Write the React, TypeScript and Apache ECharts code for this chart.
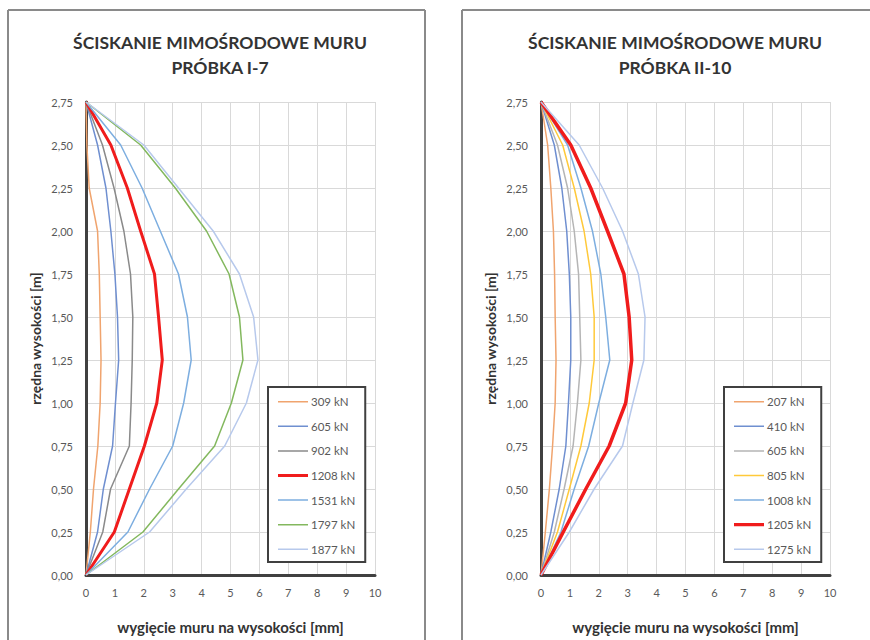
import React, { useEffect, useRef } from "react";
import * as echarts from "echarts";

// heights along the wall [m]
const heights = [0, 0.25, 0.5, 0.75, 1.0, 1.25, 1.5, 1.75, 2.0, 2.25, 2.5, 2.75];

// Sample I-7 : deflection [mm] at each height
const loadsI7 = ["309 kN", "605 kN", "902 kN", "1208 kN", "1531 kN", "1797 kN", "1877 kN"];
const i7_309 = [0, 0.15, 0.26, 0.41, 0.49, 0.52, 0.49, 0.46, 0.4, 0.11, 0.03, 0];
const i7_605 = [0, 0.4, 0.6, 0.92, 1.02, 1.13, 1.09, 1.0, 0.86, 0.69, 0.4, 0];
const i7_902 = [0, 0.58, 0.85, 1.5, 1.56, 1.6, 1.62, 1.54, 1.31, 0.97, 0.57, 0];
const i7_1208 = [0, 0.98, 1.5, 2.02, 2.45, 2.64, 2.51, 2.37, 1.89, 1.43, 0.86, 0];
const i7_1531 = [0, 1.45, 2.2, 3.0, 3.38, 3.64, 3.51, 3.2, 2.57, 1.94, 1.2, 0];
const i7_1797 = [0, 1.97, 3.2, 4.45, 5.03, 5.43, 5.31, 4.95, 4.17, 3.09, 1.89, 0];
const i7_1877 = [0, 2.2, 3.47, 4.8, 5.55, 5.95, 5.8, 5.31, 4.4, 3.2, 2.0, 0];
const valuesI7 = [i7_309, i7_605, i7_902, i7_1208, i7_1531, i7_1797, i7_1877];
const colorsI7 = ["#F0A46E", "#6F8FD0", "#8A8A8A", "#F01C1C", "#7DAEE0", "#83B85E", "#B7C9EC"];
const widthsI7 = [1.5, 1.5, 1.5, 3, 1.5, 1.5, 1.5];

// Sample II-10
const loadsII10 = ["207 kN", "410 kN", "605 kN", "805 kN", "1008 kN", "1205 kN", "1275 kN"];
const ii_207 = [0, 0.15, 0.29, 0.4, 0.49, 0.52, 0.49, 0.47, 0.43, 0.34, 0.23, 0];
const ii_410 = [0, 0.34, 0.63, 0.86, 0.95, 1.03, 1.03, 0.98, 0.89, 0.72, 0.46, 0];
const ii_605 = [0, 0.46, 0.8, 1.11, 1.26, 1.38, 1.34, 1.3, 1.15, 0.92, 0.57, 0];
const ii_805 = [0, 0.57, 0.98, 1.38, 1.67, 1.84, 1.84, 1.72, 1.49, 1.15, 0.75, 0];
const ii_1008 = [0, 0.69, 1.15, 1.65, 2.0, 2.38, 2.24, 2.07, 1.78, 1.38, 0.92, 0];
const ii_1205 = [0, 0.77, 1.55, 2.36, 2.93, 3.14, 3.05, 2.87, 2.3, 1.72, 1.03, 0];
const ii_1275 = [0, 0.98, 1.84, 2.82, 3.18, 3.56, 3.6, 3.37, 2.82, 2.13, 1.32, 0];
const valuesII10 = [ii_207, ii_410, ii_605, ii_805, ii_1008, ii_1205, ii_1275];
const colorsII10 = ["#F0A46E", "#6F8FD0", "#B5B5B5", "#FFC93A", "#7DAEE0", "#F01C1C", "#B7C9EC"];
const widthsII10 = [1.5, 1.5, 1.5, 1.5, 1.5, 3.5, 1.5];

const titleLine1 = "ŚCISKANIE MIMOŚRODOWE MURU";
const titlesLine2 = ["PRÓBKA I-7", "PRÓBKA II-10"];
const xName = "wygięcie muru na wysokości [mm]";
const yName = "rzędna wysokości [m]";

const FONT = "Lato, 'Open Sans', sans-serif";
const THIN_ICON = "path://M0,0h30v0.02h-30zM0,4.25h30v1.5h-30zM0,9.98h30v0.02h-30z";
const THICK_ICON = "path://M0,0h30v0.02h-30zM0,3.4h30v3.2h-30zM0,9.98h30v0.02h-30z";

export default function App() {
  const ref = useRef<HTMLDivElement>(null);
  useEffect(() => {
    if (!ref.current) return;
    const chart = echarts.init(ref.current, undefined, { renderer: "svg" });
    const gridLefts = [86, 541];
    const titleCenters = [220, 675];
    const panels = [
      { loads: loadsI7, values: valuesI7, colors: colorsI7, widths: widthsI7 },
      { loads: loadsII10, values: valuesII10, colors: colorsII10, widths: widthsII10 },
    ];

    const series: any[] = [];
    panels.forEach((p, gi) => {
      p.loads.forEach((name, si) => {
        series.push({
          type: "line",
          name,
          xAxisIndex: gi,
          yAxisIndex: gi,
          data: heights.map((h, k) => [p.values[si][k], h]),
          symbol: "none",
          smooth: false,
          lineStyle: { color: p.colors[si], width: p.widths[si] },
          itemStyle: { color: p.colors[si] },
          z: 2 + si * 0.01,
        });
      });
    });

    const graphic: any[] = [];
    titleCenters.forEach((cx, i) => {
      graphic.push({
        type: "text",
        x: cx,
        y: 42,
        style: { text: titleLine1, font: `bold 17.5px ${FONT}`, fill: "#333", textAlign: "center", textVerticalAlign: "middle" },
      });
      graphic.push({
        type: "text",
        x: cx,
        y: 67,
        style: { text: titlesLine2[i], font: `bold 17.5px ${FONT}`, fill: "#333", textAlign: "center", textVerticalAlign: "middle" },
      });
    });
    const frame = [
      [8, 10, 425, 10],
      [8, 10, 8, 640],
      [425, 10, 425, 640],
      [462, 10, 870, 10],
      [462, 10, 462, 640],
    ];
    frame.forEach(([x1, y1, x2, y2]) =>
      graphic.push({ type: "line", shape: { x1, y1, x2, y2 }, style: { stroke: "#8a8a8a", lineWidth: 2 } })
    );

    const option: any = {
      animation: false,
      backgroundColor: "#ffffff",
      textStyle: { fontFamily: FONT },
      grid: gridLefts.map((left) => ({ left, top: 102, width: 289, height: 473, containLabel: false })),
      xAxis: gridLefts.map((_, i) => ({
        type: "value",
        gridIndex: i,
        min: 0,
        max: 10,
        interval: 1,
        axisLine: { show: true, onZero: false, lineStyle: { color: "#404040", width: 3 } },
        axisTick: { show: false },
        axisLabel: { color: "#595959", fontSize: 11, margin: 12, fontFamily: FONT },
        splitLine: { show: true, lineStyle: { color: "#d9d9d9", width: 1 } },
        name: xName,
        nameLocation: "middle",
        nameGap: 44,
        nameTextStyle: { color: "#333", fontSize: 15, fontWeight: "bold", fontFamily: FONT },
      })),
      yAxis: gridLefts.map((_, i) => ({
        type: "value",
        gridIndex: i,
        min: 0,
        max: 2.75,
        interval: 0.25,
        axisLine: { show: true, onZero: false, lineStyle: { color: "#404040", width: 3 } },
        axisTick: { show: false },
        axisLabel: {
          color: "#595959",
          fontSize: 11,
          margin: 13,
          fontFamily: FONT,
          formatter: (v: number) => v.toFixed(2).replace(".", ","),
        },
        splitLine: { show: true, lineStyle: { color: "#d9d9d9", width: 1 } },
        name: yName,
        nameLocation: "middle",
        nameGap: 44,
        nameTextStyle: { color: "#333", fontSize: 14, fontWeight: "bold", fontFamily: FONT },
      })),
      legend: panels.map((p, gi) => ({
        orient: "vertical",
        left: gi === 0 ? 268 : 724,
        top: 387,
        padding: [8.7, 10, 6.7, 10],
        itemGap: 12.6,
        itemWidth: 30,
        itemHeight: 10,
        borderColor: "#404040",
        borderWidth: 2,
        backgroundColor: "#ffffff",
        selectedMode: false,
        textStyle: { color: "#595959", fontSize: 11.5, lineHeight: 12, fontFamily: FONT, padding: [0, 0, 0, -2] },
        data: p.loads.map((name, si) => ({
          name,
          icon: p.widths[si] > 2 ? THICK_ICON : THIN_ICON,
          itemStyle: { color: p.colors[si], borderWidth: 0 },
        })),
      })),
      graphic,
      series,
    };
    chart.setOption(option);
    return () => chart.dispose();
  }, []);
  return <div ref={ref} style={{ position: "fixed", left: 0, top: 0, width: 870, height: 640 }} />;
}
